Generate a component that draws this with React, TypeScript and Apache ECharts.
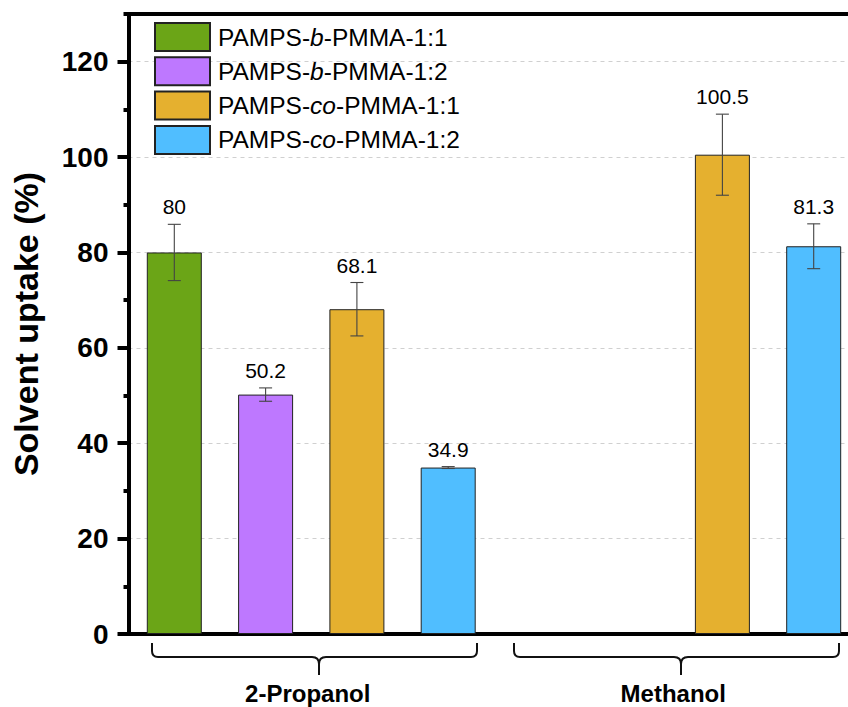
import React, { useEffect, useRef } from "react";
import * as echarts from "echarts";

// ---- data ----
const categories = ["2-Propanol", "Methanol"];
const seriesNames = [
  "PAMPS-b-PMMA-1:1",
  "PAMPS-b-PMMA-1:2",
  "PAMPS-co-PMMA-1:1",
  "PAMPS-co-PMMA-1:2",
];
const bPmma11 = [80, null];
const bPmma12 = [50.2, null];
const coPmma11 = [68.1, 100.5];
const coPmma12 = [34.9, 81.3];
const err_bPmma11 = [5.9, null];
const err_bPmma12 = [1.4, null];
const err_coPmma11 = [5.6, 8.5];
const err_coPmma12 = [0.2, 4.7];
const yTicks = [0, 20, 40, 60, 80, 100, 120];

const seriesValues = [bPmma11, bPmma12, coPmma11, coPmma12];
const seriesErrors = [err_bPmma11, err_bPmma12, err_coPmma11, err_coPmma12];
const colors = ["#6ba517", "#be78ff", "#e5b02f", "#50beff"];

const FONT = "'Liberation Sans', Arial, Helvetica, sans-serif";
const BAR_W = 55;
const BAR_GAP = 0.66;
const PITCH = BAR_W * (1 + BAR_GAP);

const braceD =
  "M0,0 L0,8 Q0,14 6,14 L160,14 Q167,14 167,21 L167,32 M167,21 Q167,14 174,14 L319,14 Q325,14 325,8 L325,0";

let registered = false;

export default function App() {
  const ref = useRef<HTMLDivElement>(null);
  useEffect(() => {
    if (!ref.current) return;
    if (!registered) {
      echarts.graphic.registerShape(
        "brace",
        (echarts.graphic as any).extendPath(braceD, {})
      );
      registered = true;
    }
    const chart = echarts.init(ref.current, null, { renderer: "svg" });

    const legendFmt = (name: string) => {
      const m = name.match(/^PAMPS-(b|co)-(.*)$/);
      if (!m) return name;
      return `{n|PAMPS-}{i|${m[1]}}{n|-${m[2]}}`;
    };

    const barSeries = seriesNames.map((name, si) => ({
      type: "bar",
      name,
      yAxisIndex: 0,
      xAxisIndex: 0,
      barWidth: BAR_W,
      barGap: `${BAR_GAP * 100}%`,
      data: seriesValues[si].map((v) => (v == null ? "-" : v)),
      itemStyle: { color: colors[si], borderColor: "#222", borderWidth: 1 },
      z: 2,
    }));

    const errSeries = seriesNames.map((name, si) => ({
      type: "custom",
      name: name + " err",
      xAxisIndex: 0,
      yAxisIndex: 0,
      z: 4,
      encode: { x: 0, y: 1 },
      data: categories
        .map((c, ci) =>
          seriesValues[si][ci] == null
            ? null
            : [ci, seriesValues[si][ci], seriesErrors[si][ci]]
        )
        .filter((d) => d != null),
      renderItem: (params: any, api: any) => {
        const ci = api.value(0);
        const mean = api.value(1);
        const e = api.value(2);
        const top = api.coord([ci, mean + e]);
        const bot = api.coord([ci, mean - e]);
        const x = top[0] + (si - 1.5) * PITCH;
        const cap = 6.5;
        const lineStyle = { stroke: "#444", lineWidth: 1.1 };
        return {
          type: "group",
          children: [
            { type: "line", shape: { x1: x, y1: top[1], x2: x, y2: bot[1] }, style: lineStyle },
            { type: "line", shape: { x1: x - cap, y1: top[1], x2: x + cap, y2: top[1] }, style: lineStyle },
            { type: "line", shape: { x1: x - cap, y1: bot[1], x2: x + cap, y2: bot[1] }, style: lineStyle },
            {
              type: "text",
              x,
              y: top[1] - 7,
              style: {
                text: String(mean),
                fontSize: 21,
                fontFamily: FONT,
                fill: "#000",
                align: "center",
                verticalAlign: "bottom",
              },
            },
          ],
        };
      },
    }));

    chart.setOption({
      animation: false,
      backgroundColor: "#fff",
      grid: {
        left: 128.5,
        width: 731,
        top: 14,
        bottom: 73,
        containLabel: false,
        outerBoundsMode: "none",
      },
      legend: {
        data: seriesNames,
        orient: "vertical",
        left: 149,
        top: 17,
        itemWidth: 55,
        itemHeight: 28,
        itemGap: 4.3,
        icon: "rect",
        formatter: legendFmt,
        textStyle: {
          fontFamily: FONT,
          fontSize: 24.5,
          color: "#000",
          padding: [0, 0, 0, 3],
          rich: {
            n: { fontFamily: FONT, fontSize: 24.5, color: "#000" },
            i: { fontFamily: FONT, fontSize: 24.5, color: "#000", fontStyle: "italic" },
          },
        },
      },
      xAxis: [
        {
          type: "category",
          data: categories,
          position: "bottom",
          axisLine: { show: true, onZero: false, lineStyle: { color: "#000", width: 4 } },
          axisTick: { show: false },
          axisLabel: {
            show: true,
            margin: 47,
            padding: [0, 7, 0, 0],
            fontFamily: FONT,
            fontSize: 24,
            fontWeight: "bold",
            color: "#000",
          },
          splitLine: { show: false },
        },
        {
          type: "category",
          data: categories,
          position: "top",
          axisLine: { show: true, onZero: false, lineStyle: { color: "#000", width: 4 } },
          axisTick: { show: false },
          axisLabel: { show: false },
          splitLine: { show: false },
        },
      ],
      yAxis: [
        {
          type: "value",
          min: 0,
          max: 130,
          interval: 20,
          position: "left",
          name: "Solvent uptake (%)",
          nameLocation: "middle",
          nameGap: 86,
          nameTextStyle: {
            fontFamily: FONT,
            fontSize: 34,
            fontWeight: "bold",
            color: "#000",
          },
          axisLine: { show: true, onZero: false, lineStyle: { color: "#000", width: 4 } },
          axisTick: {
            show: true,
            inside: false,
            length: 11,
            lineStyle: { color: "#000", width: 4 },
            customValues: yTicks,
          },
          axisLabel: {
            show: true,
            margin: 20,
            fontFamily: FONT,
            fontSize: 28,
            fontWeight: "bold",
            color: "#000",
            customValues: yTicks,
          },
          splitLine: {
            show: true,
            lineStyle: { color: "#d0d0d0", width: 1, type: [4, 4] },
          },
        },
        {
          type: "value",
          min: 0,
          max: 130,
          interval: 10,
          position: "left",
          axisLine: { show: false },
          axisTick: {
            show: true,
            inside: false,
            length: 5,
            lineStyle: { color: "#000", width: 4 },
          },
          axisLabel: { show: false },
          splitLine: { show: false },
        },
      ],
      graphic: [
        {
          type: "brace",
          x: 152,
          y: 643,
          style: { stroke: "#111", fill: null, lineWidth: 2 },
        },
        {
          type: "brace",
          x: 514,
          y: 643,
          style: { stroke: "#111", fill: null, lineWidth: 2 },
        },
      ],
      series: [...barSeries, ...errSeries],
    });
    return () => chart.dispose();
  }, []);
  return (
    <div
      ref={ref}
      style={{ position: "fixed", left: 0, top: 0, width: 848, height: 707 }}
    />
  );
}
